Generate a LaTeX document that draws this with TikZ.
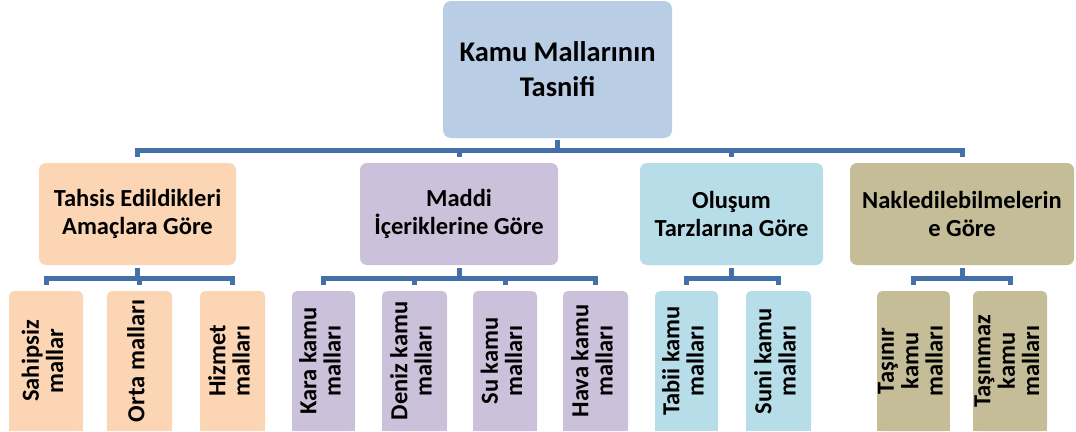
\documentclass[tikz,border=0pt]{standalone}
\usepackage{fontspec}
\setmainfont{Carlito}
\usepackage{graphicx}
\definecolor{rootc}{HTML}{B9CDE5}
\definecolor{tahc}{HTML}{FCD5B5}
\definecolor{madc}{HTML}{CCC1DA}
\definecolor{oluc}{HTML}{B7DEE8}
\definecolor{nakc}{HTML}{C4BD97}
\definecolor{connc}{HTML}{4470AA}
\newcommand{\leaftext}[1]{\rotatebox{90}{\begin{tabular}{@{}c@{}}#1\end{tabular}}}
\begin{document}
\begin{tikzpicture}[x=1pt,y=-1pt,
  rootbox/.style={draw=none,fill=rootc,rounded corners=8pt,align=center,
    minimum width=229pt,minimum height=137pt,inner sep=0pt,
    font=\bfseries\fontsize{28.5}{35}\selectfont},
  midbox/.style={draw=none,rounded corners=7pt,align=center,inner sep=0pt,
    minimum height=102pt,font=\bfseries\fontsize{24.5}{28}\selectfont},
  leafbox/.style={draw=none,rounded corners=5pt,inner sep=0pt,
    minimum height=140pt,font=\bfseries\fontsize{24.5}{24}\selectfont},
  conn/.style={draw=connc,line width=5pt,line join=miter,line cap=butt}]
\useasboundingbox (0,0) rectangle (1076,431);
\fill[white] (0,0) rectangle (1076,431);

% root
\node[rootbox] (root) at (557.5,69.5) {Kamu Mallarının\\Tasnifi};

% level 2
\node[midbox,fill=tahc,minimum width=197pt] (tah) at (137.5,214) {Tahsis Edildikleri\\Amaçlara Göre};
\node[midbox,fill=madc,minimum width=198pt] (mad) at (459,214) {Maddi\\İçeriklerine Göre};
\node[midbox,fill=oluc,minimum width=183pt] (olu) at (731.5,214) {Oluşum\\Tarzlarına Göre};
\node[midbox,fill=nakc,minimum width=224pt] (nak) at (962,214) {Nakledilebilmelerin\\e Göre};

% leaves
\node[leafbox,fill=tahc,minimum width=74pt] (l1) at (46,361) {\leaftext{Sahipsiz\\mallar}};
\node[leafbox,fill=tahc,minimum width=65pt] (l2) at (139.5,361) {\leaftext{Orta malları}};
\node[leafbox,fill=tahc,minimum width=65pt] (l3) at (232.5,361) {\leaftext{Hizmet\\malları}};
\node[leafbox,fill=madc,minimum width=63pt] (l4) at (323.5,361) {\leaftext{Kara kamu\\malları}};
\node[leafbox,fill=madc,minimum width=65pt] (l5) at (414.5,361) {\leaftext{Deniz kamu\\malları}};
\node[leafbox,fill=madc,minimum width=64pt] (l6) at (505,361) {\leaftext{Su kamu\\malları}};
\node[leafbox,fill=madc,minimum width=65pt] (l7) at (595.5,361) {\leaftext{Hava kamu\\malları}};
\node[leafbox,fill=oluc,minimum width=63pt] (l8) at (686.5,361) {\leaftext{Tabii kamu\\malları}};
\node[leafbox,fill=oluc,minimum width=65pt] (l9) at (778.5,361) {\leaftext{Suni kamu\\malları}};
\node[leafbox,fill=nakc,minimum width=67pt] (l10) at (913.5,361) {\leaftext{Taşınır\\kamu\\malları}};
\node[leafbox,fill=nakc,minimum width=74pt] (l11) at (1010,361) {\leaftext{Taşınmaz\\kamu\\malları}};

% square off the leaf bottoms (cut by the page edge)
\foreach \n/\c in {l1/tahc,l2/tahc,l3/tahc,l4/madc,l5/madc,l6/madc,l7/madc,l8/oluc,l9/oluc,l10/nakc,l11/nakc}{
  \fill[\c] ([yshift=8pt]\n.south west) rectangle (\n.south east);
}

% bus coordinates
\coordinate (bus1) at (0,150);
\coordinate (bus2) at (0,278);

% root to level 2
\draw[conn,shorten <=2pt] (root.south) -- (root.south |- bus1);
\draw[conn,shorten <=6pt,shorten >=6pt] (tah.north) -- (tah.north |- bus1) -- (nak.north |- bus1) -- (nak.north);
\draw[conn,shorten >=6pt] (mad.north |- bus1) -- (mad.north);
\draw[conn,shorten >=6pt] (olu.north |- bus1) -- (olu.north);

% Tahsis group
\draw[conn,shorten <=3pt] (tah.south) -- (tah.south |- bus2);
\draw[conn,shorten <=6pt,shorten >=6pt] (l1.north) -- (l1.north |- bus2) -- (l3.north |- bus2) -- (l3.north);
\draw[conn,shorten >=6pt] (l2.north |- bus2) -- (l2.north);

% Maddi group
\draw[conn,shorten <=3pt] (mad.south) -- (mad.south |- bus2);
\draw[conn,shorten <=6pt,shorten >=6pt] (l4.north) -- (l4.north |- bus2) -- (l7.north |- bus2) -- (l7.north);
\draw[conn,shorten >=6pt] (l5.north |- bus2) -- (l5.north);
\draw[conn,shorten >=6pt] (l6.north |- bus2) -- (l6.north);

% Olusum group
\draw[conn,shorten <=3pt] (olu.south) -- (olu.south |- bus2);
\draw[conn,shorten <=6pt,shorten >=6pt] (l8.north) -- (l8.north |- bus2) -- (l9.north |- bus2) -- (l9.north);

% Nakledilebilme group
\draw[conn,shorten <=3pt] (nak.south) -- (nak.south |- bus2);
\draw[conn,shorten <=6pt,shorten >=6pt] (l10.north) -- (l10.north |- bus2) -- (l11.north |- bus2) -- (l11.north);
\end{tikzpicture}
\end{document}
